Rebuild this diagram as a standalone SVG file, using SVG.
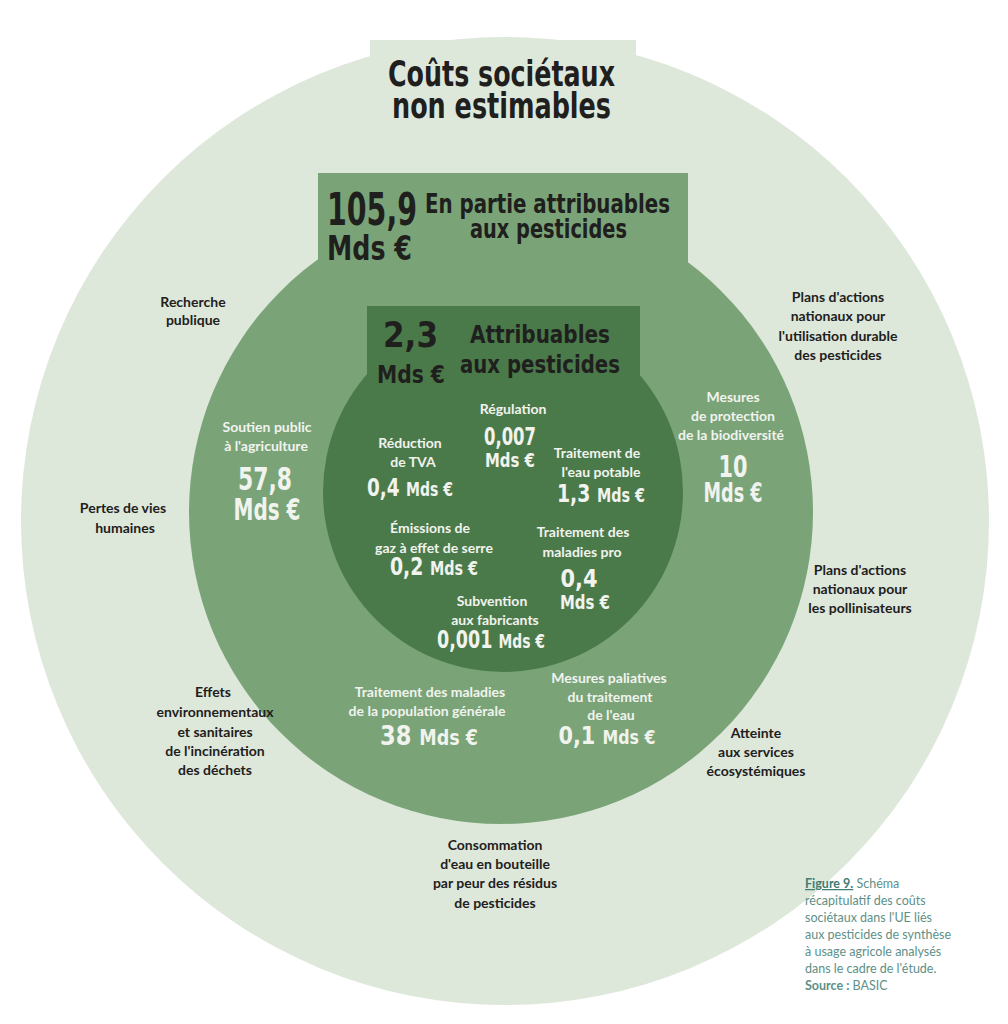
<svg xmlns="http://www.w3.org/2000/svg" width="1008" height="1024" viewBox="0 0 1008 1024">
<style>
.lbl{font-family:Lato,"Noto Sans",sans-serif;font-weight:700;font-size:14px;text-anchor:middle}
.dark{fill:#1f201d}
.wht{fill:#f1f3ee}
.num{font-family:"DejaVu Sans Condensed","DejaVu Sans",sans-serif;font-weight:bold;font-stretch:condensed;text-anchor:middle}
.numl{font-family:"DejaVu Sans Condensed","DejaVu Sans",sans-serif;font-weight:bold;font-stretch:condensed}
.cap{font-family:Lato,"Noto Sans",sans-serif;font-size:12.5px;fill:#5d9088}
</style>
<rect width="1008" height="1024" fill="#ffffff"/>
<g id="outer">
<circle cx="505" cy="521" r="484" fill="#dde8da"/>
<rect x="370" y="40" width="266" height="100" fill="#dde8da"/>
<text class="numl dark" x="388" y="86" font-size="35" textLength="227" lengthAdjust="spacingAndGlyphs">Coûts sociétaux</text>
<text class="numl dark" x="392" y="118" font-size="35" textLength="219" lengthAdjust="spacingAndGlyphs">non estimables</text>
</g>
<g id="middle">
<circle cx="501" cy="512" r="312" fill="#7aa478"/>
<rect x="318" y="173" width="370" height="92" fill="#7aa478"/>
<text class="numl dark" x="327" y="225" font-size="45" textLength="90" lengthAdjust="spacingAndGlyphs">105,9</text>
<text class="numl dark" x="327" y="260" font-size="34" textLength="85" lengthAdjust="spacingAndGlyphs">Mds €</text>
<text class="numl dark" x="425" y="213" font-size="26" textLength="245" lengthAdjust="spacingAndGlyphs">En partie attribuables</text>
<text class="numl dark" x="470" y="238" font-size="26" textLength="157" lengthAdjust="spacingAndGlyphs">aux pesticides</text>
</g>
<g id="inner">
<circle cx="503" cy="492" r="180" fill="#4b7a4a"/>
<rect x="367" y="306" width="273" height="80" fill="#4b7a4a"/>
<text class="numl dark" x="383" y="347" font-size="35" textLength="55" lengthAdjust="spacingAndGlyphs">2,3</text>
<text class="numl dark" x="377" y="383" font-size="25" textLength="68" lengthAdjust="spacingAndGlyphs">Mds €</text>
<text class="numl dark" x="470" y="343" font-size="24" textLength="140" lengthAdjust="spacingAndGlyphs">Attribuables</text>
<text class="numl dark" x="460" y="373" font-size="24" textLength="160" lengthAdjust="spacingAndGlyphs">aux pesticides</text>
</g>
<g id="n-regulation">
<text class="lbl wht" x="513" y="414">Régulation</text>
<text class="num wht" x="510" y="445" font-size="25" textLength="52" lengthAdjust="spacingAndGlyphs">0,007</text>
<text class="num wht" x="510" y="467" font-size="19" textLength="50" lengthAdjust="spacingAndGlyphs">Mds €</text>
</g>
<g id="n-tva">
<text class="lbl wht" x="410" y="448">Réduction</text>
<text class="lbl wht" x="413" y="467">de TVA</text>
<text class="num wht" x="410" y="496" textLength="86" lengthAdjust="spacingAndGlyphs"><tspan font-size="25">0,4 </tspan><tspan font-size="19">Mds €</tspan></text>
</g>
<g id="n-eau-potable">
<text class="lbl wht" x="597" y="458">Traitement de</text>
<text class="lbl wht" x="601" y="477">l'eau potable</text>
<text class="num wht" x="601" y="502" textLength="88" lengthAdjust="spacingAndGlyphs"><tspan font-size="25">1,3 </tspan><tspan font-size="19">Mds €</tspan></text>
</g>
<g id="n-ges">
<text class="lbl wht" x="430" y="533">Émissions de</text>
<text class="lbl wht" x="434" y="553">gaz à effet de serre</text>
<text class="num wht" x="434" y="575" textLength="88" lengthAdjust="spacingAndGlyphs"><tspan font-size="25">0,2 </tspan><tspan font-size="19">Mds €</tspan></text>
</g>
<g id="n-maladies-pro">
<text class="lbl wht" x="583" y="537">Traitement des</text>
<text class="lbl wht" x="582" y="557">maladies pro</text>
<text class="num wht" x="579" y="587" font-size="25" textLength="37" lengthAdjust="spacingAndGlyphs">0,4</text>
<text class="num wht" x="585" y="609" font-size="19" textLength="50" lengthAdjust="spacingAndGlyphs">Mds €</text>
</g>
<g id="n-subvention">
<text class="lbl wht" x="492" y="606">Subvention</text>
<text class="lbl wht" x="495" y="625">aux fabricants</text>
<text class="num wht" x="491" y="648" textLength="108" lengthAdjust="spacingAndGlyphs"><tspan font-size="24">0,001 </tspan><tspan font-size="19">Mds €</tspan></text>
</g>
<g id="n-soutien">
<text class="lbl wht" x="267" y="432">Soutien public</text>
<text class="lbl wht" x="266" y="451">à l'agriculture</text>
<text class="num wht" x="265" y="490" font-size="32" textLength="54" lengthAdjust="spacingAndGlyphs">57,8</text>
<text class="num wht" x="267" y="520" font-size="30" textLength="67" lengthAdjust="spacingAndGlyphs">Mds €</text>
</g>
<g id="n-biodiversite">
<text class="lbl wht" x="733" y="402">Mesures</text>
<text class="lbl wht" x="733" y="421">de protection</text>
<text class="lbl wht" x="731" y="440">de la biodiversité</text>
<text class="num wht" x="733" y="477" font-size="31" textLength="29" lengthAdjust="spacingAndGlyphs">10</text>
<text class="num wht" x="733" y="502" font-size="27" textLength="59" lengthAdjust="spacingAndGlyphs">Mds €</text>
</g>
<g id="n-population">
<text class="lbl wht" x="430" y="697">Traitement des maladies</text>
<text class="lbl wht" x="427" y="716">de la population générale</text>
<text class="num wht" x="429" y="745" textLength="98" lengthAdjust="spacingAndGlyphs"><tspan font-size="27">38 </tspan><tspan font-size="21">Mds €</tspan></text>
</g>
<g id="n-paliatives">
<text class="lbl wht" x="609" y="683">Mesures paliatives</text>
<text class="lbl wht" x="610" y="702">du traitement</text>
<text class="lbl wht" x="611" y="720">de l'eau</text>
<text class="num wht" x="607" y="744" textLength="97" lengthAdjust="spacingAndGlyphs"><tspan font-size="25">0,1 </tspan><tspan font-size="19">Mds €</tspan></text>
</g>
<g id="n-recherche">
<text class="lbl dark" x="193" y="307">Recherche</text>
<text class="lbl dark" x="193" y="325">publique</text>
</g>
<g id="n-pan-pesticides">
<text class="lbl dark" x="838" y="302">Plans d'actions</text>
<text class="lbl dark" x="838" y="321">nationaux pour</text>
<text class="lbl dark" x="838" y="341">l'utilisation durable</text>
<text class="lbl dark" x="838" y="360">des pesticides</text>
</g>
<g id="n-pertes">
<text class="lbl dark" x="123" y="513">Pertes de vies</text>
<text class="lbl dark" x="125" y="533">humaines</text>
</g>
<g id="n-pan-pollinisateurs">
<text class="lbl dark" x="860" y="575">Plans d'actions</text>
<text class="lbl dark" x="860" y="594">nationaux pour</text>
<text class="lbl dark" x="860" y="613">les pollinisateurs</text>
</g>
<g id="n-incineration">
<text class="lbl dark" x="213" y="697">Effets</text>
<text class="lbl dark" x="215" y="717">environnementaux</text>
<text class="lbl dark" x="215" y="737">et sanitaires</text>
<text class="lbl dark" x="215" y="756">de l'incinération</text>
<text class="lbl dark" x="215" y="775">des déchets</text>
</g>
<g id="n-ecosystemiques">
<text class="lbl dark" x="756" y="738">Atteinte</text>
<text class="lbl dark" x="756" y="757">aux services</text>
<text class="lbl dark" x="756" y="776">écosystémiques</text>
</g>
<g id="n-bouteille">
<text class="lbl dark" x="495" y="850">Consommation</text>
<text class="lbl dark" x="495" y="869">d'eau en bouteille</text>
<text class="lbl dark" x="495" y="888">par peur des résidus</text>
<text class="lbl dark" x="495" y="908">de pesticides</text>
</g>
<g id="connectors"></g>
<g id="caption">
<text class="cap" x="805" y="888"><tspan font-weight="700" fill="#3f7d74" text-decoration="underline">Figure 9.</tspan> Schéma</text>
<text class="cap" x="805" y="905">récapitulatif des coûts</text>
<text class="cap" x="805" y="922">sociétaux dans l'UE liés</text>
<text class="cap" x="805" y="939">aux pesticides de synthèse</text>
<text class="cap" x="805" y="956">à usage agricole analysés</text>
<text class="cap" x="805" y="973">dans le cadre de l'étude.</text>
<text class="cap" x="805" y="990"><tspan font-weight="700">Source :</tspan> BASIC</text>
</g>
</svg>
